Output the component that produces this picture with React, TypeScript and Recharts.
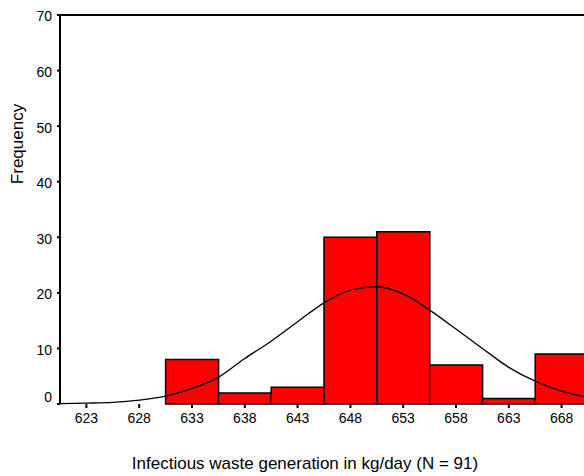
import { ComposedChart, Bar, Line, XAxis, YAxis, ReferenceLine, Label } from 'recharts';

// histogram bins (bin centre, kg/day) and counts
const bins = ['623', '628', '633', '638', '643', '648', '653', '658', '663', '668'];
const counts = [0, 0, 8, 2, 3, 30, 31, 7, 1, 9];

// normal curve
const curveX = [620.5, 623, 625.5, 628, 630.5, 633, 635.5, 638, 640.5, 643, 645.5, 648, 650.5, 653, 655.5, 658, 660.5, 663, 665.5, 668, 670.5];
const curveY = [0.05, 0.15, 0.3, 0.7, 1.4, 2.8, 4.8, 8.2, 11.3, 14.8, 18.2, 20.5, 21.1, 19.8, 16.9, 13.5, 10.0, 6.6, 4.1, 2.3, 1.2];

const yTicks = [0, 10, 20, 30, 40, 50, 60, 70];

const barData = bins.map((bin, i) => ({ bin, count: counts[i] }));
const curveData = curveX.map((x, i) => ({ x, y: curveY[i] }));

const font = 'Arial, "Liberation Sans", sans-serif';

// SPSS puts the "0" label a little above the axis
const YTick = ({ x, y, payload }: any) => (
    <text
        x={x}
        y={payload.value === 0 ? y - 7 : y + 1.5}
        dy="0.355em"
        textAnchor="end"
        fill="#000"
        fontSize={14}
        fontFamily={font}
    >
        {payload.value}
    </text>
);

const App = () => {
    return (
        <div style={{ position: 'absolute', left: 0, top: 0, width: 584, height: 476, overflow: 'hidden', background: '#fff' }}>
            <ComposedChart
                width={592}
                height={476}
                data={barData}
                margin={{ top: 15, right: 4, left: 20, bottom: 42 }}
                barCategoryGap={0}
                barGap={0}
            >
                <XAxis
                    xAxisId="bins"
                    dataKey="bin"
                    axisLine={false}
                    tickLine={{ stroke: '#000', strokeWidth: 2 }}
                    tickSize={4}
                    tickMargin={5}
                    height={30}
                    tick={{ fill: '#000', fontSize: 14, fontFamily: font }}
                    interval={0}
                >
                    <Label
                        value="Infectious waste generation in kg/day (N = 91)"
                        position="insideBottom"
                        content={() => (
                            <text x={305} y={469} textAnchor="middle" fill="#000" fontSize={17} fontFamily={font}>
                                Infectious waste generation in kg/day (N = 91)
                            </text>
                        )}
                    />
                </XAxis>
                <XAxis xAxisId="curve" type="number" dataKey="x" domain={[620.5, 670.5]} hide allowDataOverflow />
                <YAxis
                    domain={[0, 70]}
                    ticks={yTicks}
                    width={40}
                    axisLine={{ stroke: '#000', strokeWidth: 2 }}
                    tickLine={{ stroke: '#000', strokeWidth: 2 }}
                    tickSize={3}
                    tickMargin={5}
                    tick={<YTick />}
                >
                    <Label
                        value="Frequency"
                        content={() => (
                            <text x={23} y={144} transform="rotate(-90 23 144)" textAnchor="middle" fill="#000" fontSize={17} fontFamily={font}>
                                Frequency
                            </text>
                        )}
                    />
                </YAxis>
                <ReferenceLine xAxisId="bins" y={70} stroke="#000" strokeWidth={2} />
                <Bar xAxisId="bins" dataKey="count" fill="#ff0000" stroke="#000" strokeWidth={1.5} isAnimationActive={false} />
                <Line
                    xAxisId="curve"
                    data={curveData}
                    dataKey="y"
                    type="monotone"
                    stroke="#000"
                    strokeWidth={1.3}
                    dot={false}
                    isAnimationActive={false}
                />
            </ComposedChart>
        </div>
    );
};

export default App;
